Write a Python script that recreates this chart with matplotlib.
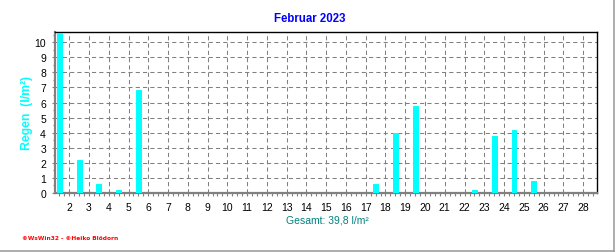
import numpy as np
import matplotlib
matplotlib.use('Agg')
import matplotlib.pyplot as plt
from matplotlib.lines import Line2D
from matplotlib.ticker import MultipleLocator, FixedLocator

# daily rain, February 2023 (l/m²)
days = np.arange(1, 29)
rain = [10.6, 2.2, 0.6, 0.2, 6.8, 0, 0, 0, 0, 0, 0, 0, 0, 0,
        0, 0, 0.6, 4.0, 5.8, 0, 0, 0.2, 3.8, 4.2, 0.8, 0, 0, 0]
tick_days = list(range(2, 29))
title = 'Februar 2023'
total_text = 'Gesamt: 39,8 l/m²'

plt.rcParams['font.family'] = ['Liberation Sans', 'DejaVu Sans']

fig = plt.figure(figsize=(6.16, 2.53), dpi=100)
W, H = 616, 253
ax = fig.add_axes([55 / W, 1 - 194 / H, (597 - 55) / W, (194 - 33) / H])

# bars (zero days still leave a thin cyan mark on the baseline)
ax.bar(days + 0.5, rain, width=0.25, color='#00FFFF', edgecolor='#00FFFF',
       linewidth=0.7, zorder=3)

ax.set_xlim(1.28, 28.7)
ax.set_ylim(0, 10.68)
ax.xaxis.set_major_locator(FixedLocator(tick_days))
ax.xaxis.set_minor_locator(MultipleLocator(0.25))
ax.yaxis.set_major_locator(MultipleLocator(1))
ax.yaxis.set_minor_locator(MultipleLocator(0.5))
ax.set_xticklabels([str(d) for d in tick_days])

ax.grid(True, which='major', color='#808080', linestyle=(0, (4, 3)), linewidth=0.75)
ax.set_axisbelow(True)

ax.tick_params(which='both', color='#808080', labelsize=7.5, width=0.8)
ax.tick_params(axis='x', which='both', length=2.5, pad=4)
ax.tick_params(axis='y', which='major', length=2.5, pad=4)
ax.tick_params(axis='y', which='minor', length=1.5)

for side in ('left', 'bottom'):
    ax.spines[side].set_color('#808080')
    ax.spines[side].set_linewidth(1.6)
for side in ('top', 'right'):
    ax.spines[side].set_color('black')
    ax.spines[side].set_linewidth(1.0)

fig.text(310 / W, 1 - 19 / H, title, color='#0000FF', fontsize=8.3,
         fontweight='bold', ha='center', va='center')
fig.text(27 / W, 1 - 113 / H, 'Regen  (l/m²)', color='#00FFFF', fontsize=8.8,
         fontweight='bold', rotation=90, ha='center', va='center')
fig.text(327 / W, 1 - 221 / H, total_text, color='#008080', fontsize=7.5,
         ha='center', va='center')
fig.text(22 / W, 1 - 238.5 / H, '©WsWin32 - ©Heiko Blödorn', color='#FF0000',
         fontsize=4.2, fontweight='bold', ha='left', va='center',
         family=['DejaVu Sans'])

# grey frame on the right and bottom edge of the picture
fig.add_artist(Line2D([613.5 / W, 613.5 / W], [1 - 252 / H, 1.0],
                      transform=fig.transFigure, color='#A0A0A0', linewidth=1.2))
fig.add_artist(Line2D([0, 614 / W], [1 - 251.5 / H, 1 - 251.5 / H],
                      transform=fig.transFigure, color='#A0A0A0', linewidth=1.2))

fig.savefig('out.png', dpi=100, facecolor='white')
